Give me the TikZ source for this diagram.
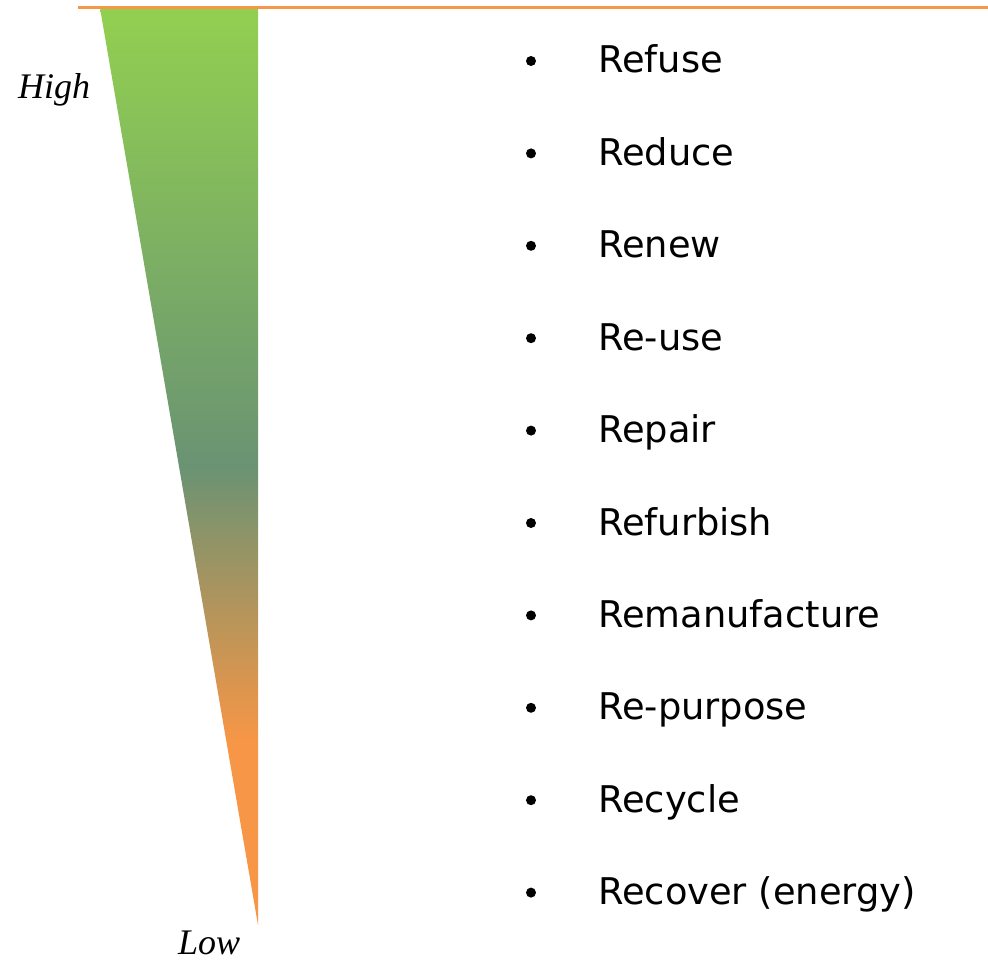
\documentclass[tikz,border=0pt]{standalone}
\usepackage{fontspec}
\setmainfont{DejaVu Sans}
\newfontfamily\serifit{Liberation Serif}
\definecolor{topgreen}{HTML}{92D050}
\definecolor{midgreen}{HTML}{6A9373}
\definecolor{botorange}{HTML}{F79646}
\definecolor{lineorange}{HTML}{F79646}
\pgfdeclareverticalshading{wedgeshade}{100bp}{color(0bp)=(botorange); color(25bp)=(botorange); color(35bp)=(botorange); color(50bp)=(midgreen); color(75bp)=(topgreen); color(100bp)=(topgreen)}
\begin{document}
\begin{tikzpicture}[x=1pt,y=-1pt,
  item/.style={anchor=base west,inner sep=0pt,font=\fontsize{36.8}{40}\selectfont},
  lvl/.style={anchor=base west,inner sep=0pt,font=\serifit\itshape\fontsize{36}{40}\selectfont},
  bul/.style={circle,fill=black,inner sep=0pt,minimum size=10pt}]
\useasboundingbox (0,0) rectangle (988,960);
\shade[shading=wedgeshade]
  (100,8) -- (258,8) -- (258,925) -- cycle;
\draw[lineorange,line width=3pt] (78,8) -- (988,8);
\node[lvl] (high) at (18,99) {High};
\node[lvl] (low) at (178,954) {Low};
\foreach \t [count=\i from 0] in {Refuse,Reduce,Renew,Re-use,Repair,Refurbish,Remanufacture,Re-purpose,Recycle,Recover (energy)}{
  \node[item] (t\i) at (598,{73+92.4*\i}) {\t};
  \node[bul] (b\i) at (531,{61+92.4*\i}) {};
}
\end{tikzpicture}
\end{document}
